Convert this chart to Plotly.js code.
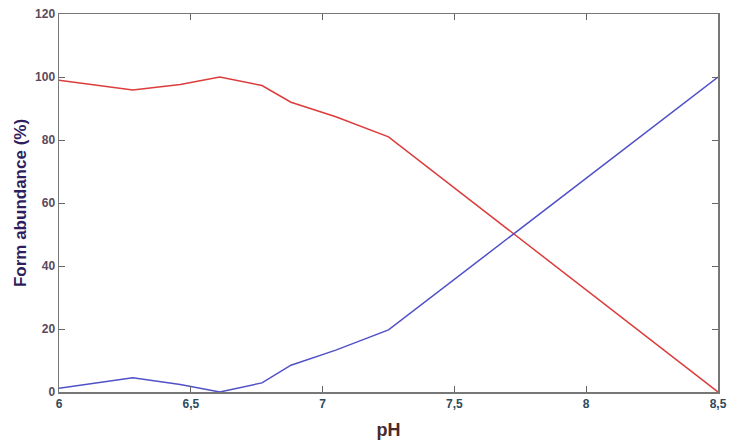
<!DOCTYPE html>
<html>
<head>
<meta charset="utf-8">
<script src="https://cdn.plot.ly/plotly-3.0.1.min.js"></script>
<style>
html,body{margin:0;padding:0;background:#fff;}
#chart{width:729px;height:441px;}
</style>
</head>
<body>
<div id="chart"></div>
<script>
const pH = [6, 6.28, 6.46, 6.61, 6.77, 6.88, 7.05, 7.25, 8.5];
const formRed = [99, 95.9, 97.6, 100, 97.3, 92, 87.4, 81, 0];
const formBlue = [1.2, 4.5, 2.4, 0, 2.9, 8.5, 13.3, 19.7, 100];

const xTickVals = [6, 6.5, 7, 7.5, 8, 8.5];
const xTickText = ['6', '6,5', '7', '7,5', '8', '8,5'];
const yTickVals = [0, 20, 40, 60, 80, 100, 120];
const yTickText = ['0', '20', '40', '60', '80', '100', '120'];

const traces = [
  {x: pH, y: formRed, type: 'scatter', mode: 'lines',
   line: {color: '#dc3c3c', width: 1.5}, showlegend: false, hoverinfo: 'skip'},
  {x: pH, y: formBlue, type: 'scatter', mode: 'lines',
   line: {color: '#5050c8', width: 1.5}, showlegend: false, hoverinfo: 'skip'}
];

const layout = {
  width: 729, height: 441,
  margin: {l: 59, r: 11, t: 14, b: 49},
  paper_bgcolor: '#ffffff', plot_bgcolor: '#ffffff',
  font: {family: 'Liberation Sans, Arial, sans-serif'},
  xaxis: {
    range: [6, 8.5], tickvals: xTickVals, ticktext: xTickText,
    ticks: 'inside', ticklen: 6, tickcolor: '#666', tickwidth: 1,
    showline: true, linecolor: '#777', linewidth: 1.5, mirror: 'ticks',
    showgrid: false, zeroline: false,
    tickfont: {size: 12, color: '#2f4a5a', family: 'Liberation Sans, Arial, sans-serif', weight: 'bold'},
    title: {text: '<b>pH</b>', font: {size: 18, color: '#4a2a2a'}, standoff: 13}
  },
  yaxis: {
    range: [0, 120], tickvals: yTickVals, ticktext: yTickText,
    ticks: 'inside', ticklen: 6, tickcolor: '#666', tickwidth: 1,
    showline: true, linecolor: '#777', linewidth: 1.5, mirror: 'ticks',
    showgrid: false, zeroline: false,
    tickfont: {size: 12, color: '#5a4a5a', family: 'Liberation Sans, Arial, sans-serif', weight: 'bold'},
    title: {text: '<b>Form abundance (%)</b>', font: {size: 17, color: '#2e1e5e'}, standoff: 4}
  }
};

Plotly.newPlot('chart', traces, layout, {displayModeBar: false, staticPlot: true});
</script>
</body>
</html>
